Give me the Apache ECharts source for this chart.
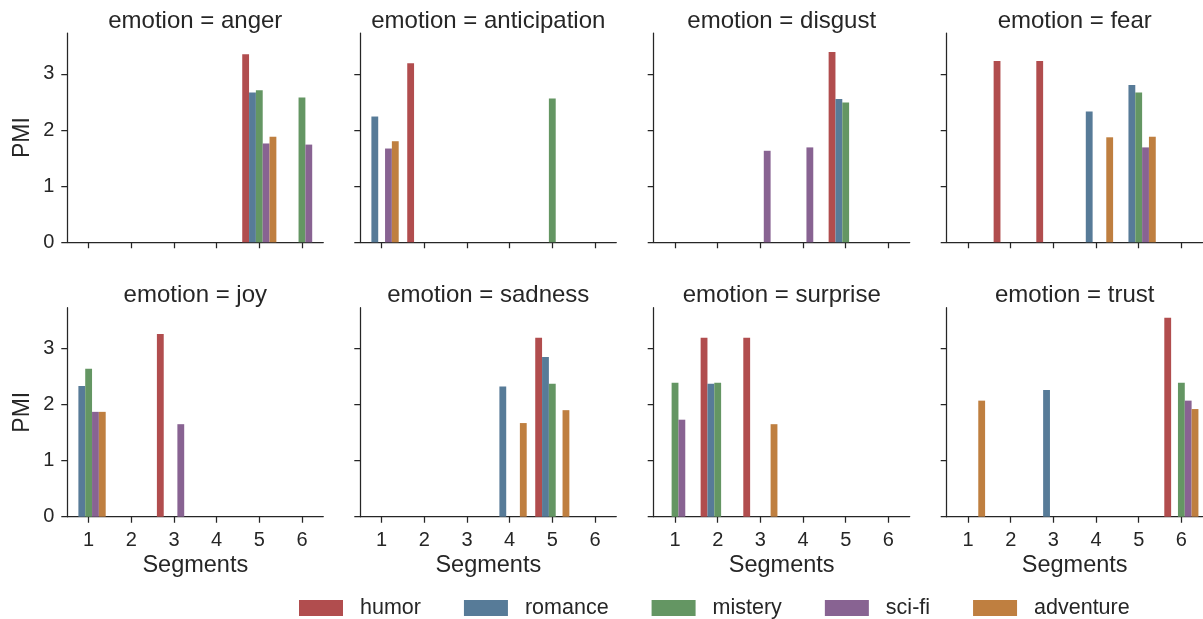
<!DOCTYPE html>
<html>
<head>
<meta charset="utf-8">
<script src="https://cdn.jsdelivr.net/npm/echarts@6/dist/echarts.min.js"></script>
<style>
html,body{margin:0;padding:0;background:#fff;}
#chart{width:1203px;height:619px;}
</style>
</head>
<body>
<div id="chart"></div>
<script>
// ---- data ----
const segments = ['1', '2', '3', '4', '5', '6'];
const genres = ['humor', 'romance', 'mistery', 'sci-fi', 'adventure'];
const emotions = ['anger', 'anticipation', 'disgust', 'fear', 'joy', 'sadness', 'surprise', 'trust'];
const yTicks = [0, 1, 2, 3];
const yMax = 3.7275;

// rows: humor, romance, mistery, sci-fi, adventure ; columns: segments 1..6
const anger = [
  [null, null, null, null, 3.35, null],
  [null, null, null, null, 2.67, null],
  [null, null, null, null, 2.71, 2.58],
  [null, null, null, null, 1.76, 1.74],
  [null, null, null, null, 1.88, null]
];
const anticipation = [
  [null, 3.19, null, null, null, null],
  [2.24, null, null, null, null, null],
  [null, null, null, null, 2.56, null],
  [1.67, null, null, null, null, null],
  [1.80, null, null, null, null, null]
];
const disgust = [
  [null, null, null, null, 3.39, null],
  [null, null, null, null, 2.55, null],
  [null, null, null, null, 2.49, null],
  [null, null, 1.63, 1.69, null, null],
  [null, null, null, null, null, null]
];
const fear = [
  [null, 3.23, 3.23, null, null, null],
  [null, null, null, 2.33, 2.80, null],
  [null, null, null, null, 2.67, null],
  [null, null, null, null, 1.69, null],
  [null, null, null, 1.87, 1.88, null]
];
const joy = [
  [null, null, 3.26, null, null, null],
  [2.33, null, null, null, null, null],
  [2.64, null, null, null, null, null],
  [1.87, null, 1.65, null, null, null],
  [1.87, null, null, null, null, null]
];
const sadness = [
  [null, null, null, null, 3.19, null],
  [null, null, null, 2.32, 2.85, null],
  [null, null, null, null, 2.37, null],
  [null, null, null, null, null, null],
  [null, null, null, 1.67, 1.90, null]
];
const surprise = [
  [null, 3.19, 3.19, null, null, null],
  [null, 2.37, null, null, null, null],
  [2.39, 2.39, null, null, null, null],
  [1.73, null, null, null, null, null],
  [null, null, 1.65, null, null, null]
];
const trust = [
  [null, null, null, null, null, 3.55],
  [null, null, 2.26, null, null, null],
  [null, null, null, null, null, 2.39],
  [null, null, null, null, null, 2.07],
  [2.07, null, null, null, null, 1.92]
];
const facetData = [anger, anticipation, disgust, fear, joy, sadness, surprise, trust];

// ---- styling / layout ----
const colors = ['#b14d4e', '#577b98', '#649663', '#886392', '#bf7f40'];
const ink = '#262626';
const font = 'Liberation Sans, Arial, Helvetica, sans-serif';
const gridLefts = [67.3, 360.3, 653.7, 946.7];
const gridWidth = 256;
const rowTops = [33, 307.7];
const rowHeights = [209.3, 209];
const titleTops = [9.5, 283];

const grids = [], xAxes = [], yAxes = [], series = [], titles = [];
emotions.forEach((emo, i) => {
  const row = Math.floor(i / 4), col = i % 4;
  grids.push({left: gridLefts[col], top: rowTops[row], width: gridWidth, height: rowHeights[row]});
  titles.push({
    text: 'emotion = ' + emo,
    left: gridLefts[col] + gridWidth / 2,
    textAlign: 'center',
    top: titleTops[row],
    padding: 0,
    textStyle: {fontFamily: font, fontSize: 24, fontWeight: 'normal', color: ink}
  });
  xAxes.push({
    type: 'category', gridIndex: i, data: segments, boundaryGap: true,
    name: row === 1 ? 'Segments' : '', nameLocation: 'middle', nameGap: 37,
    nameTextStyle: {fontFamily: font, fontSize: 23.5, color: ink},
    axisLine: {show: true, lineStyle: {color: ink, width: 1.25}},
    axisTick: {show: true, alignWithLabel: true, length: 6, lineStyle: {color: ink, width: 1.25}},
    axisLabel: {show: row === 1, interval: 0, margin: 14, fontFamily: font, fontSize: 20, color: ink},
    splitLine: {show: false}
  });
  yAxes.push({
    type: 'value', gridIndex: i, min: 0, max: yMax, interval: 1,
    name: col === 0 ? 'PMI' : '', nameLocation: 'middle', nameGap: 33, nameRotate: 90,
    nameTextStyle: {fontFamily: font, fontSize: 23, color: ink},
    axisLine: {show: true, lineStyle: {color: ink, width: 1.25}},
    axisTick: {show: true, length: 6, customValues: yTicks, lineStyle: {color: ink, width: 1.25}},
    axisLabel: {show: col === 0, customValues: yTicks, margin: 13, fontFamily: font, fontSize: 20, color: ink},
    splitLine: {show: false}
  });
  genres.forEach((g, k) => {
    series.push({
      type: 'bar', name: g, xAxisIndex: i, yAxisIndex: i,
      data: facetData[i][k],
      barGap: '0%', barCategoryGap: '20%',
      itemStyle: {color: colors[k]},
      emphasis: {disabled: true},
      animation: false
    });
  });
});

const chart = echarts.init(document.getElementById('chart'), null, {renderer: 'canvas'});
chart.setOption({
  backgroundColor: '#ffffff',
  animation: false,
  color: colors,
  title: titles,
  grid: grids,
  xAxis: xAxes,
  yAxis: yAxes,
  legend: {
    data: genres,
    left: 299, top: 597, padding: 0,
    icon: 'rect', itemWidth: 44, itemHeight: 16, itemGap: 43,
    selectedMode: false,
    textStyle: {fontFamily: font, fontSize: 21.5, color: ink, padding: [0, 0, 0, 12]}
  },
  series: series
});
</script>
</body>
</html>
